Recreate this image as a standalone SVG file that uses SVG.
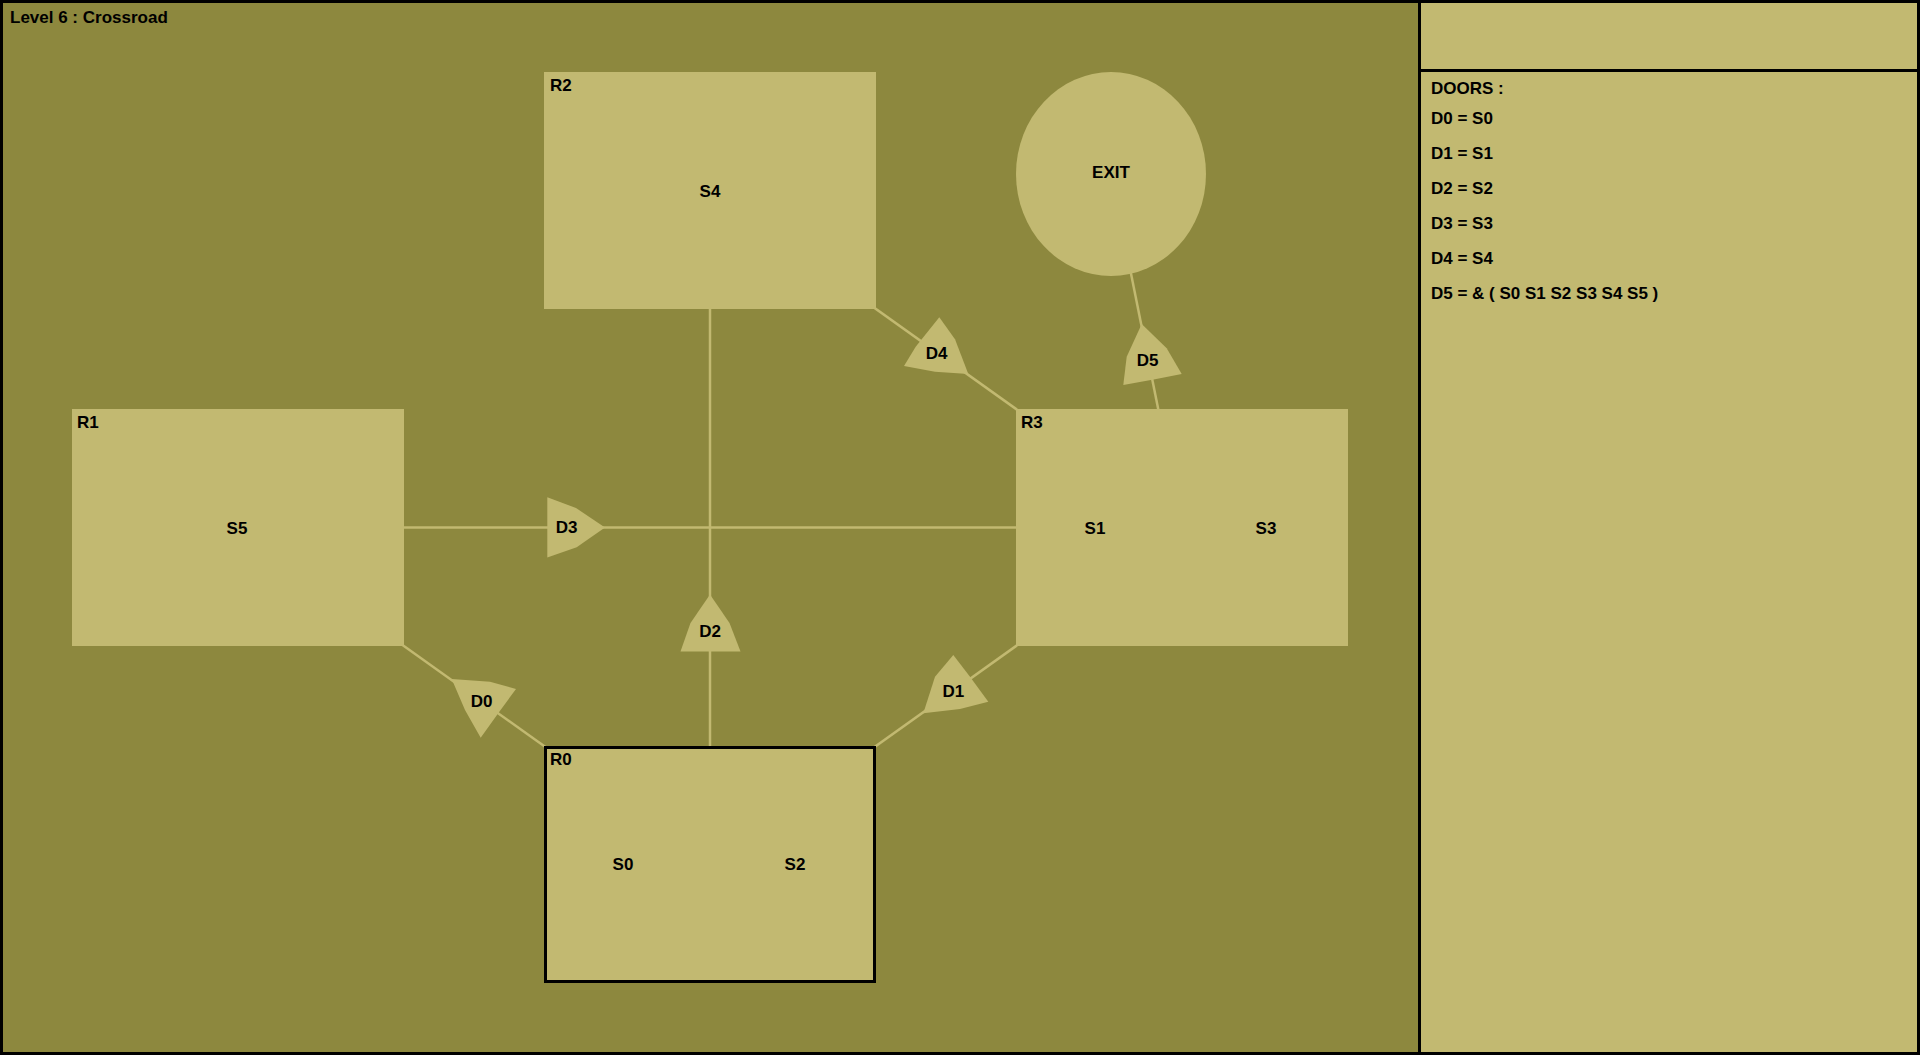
<svg xmlns="http://www.w3.org/2000/svg" width="1920" height="1055" viewBox="0 0 1920 1055">
<style>
text{font-family:"Liberation Sans",Arial,sans-serif;font-weight:bold;font-size:17px;fill:#000}
.c{text-anchor:middle}
.room{fill:#C2B971}
.door{fill:#C2B971}
.link{stroke:#C2B971;stroke-width:2.5;fill:none}
</style>
<rect x="0" y="0" width="1920" height="1055" fill="#000"/>
<rect x="3" y="3" width="1415" height="1049" fill="#8D883E"/>
<rect x="1421" y="3" width="496" height="66" fill="#C2B971"/>
<rect x="1421" y="72" width="496" height="980" fill="#C2B971"/>
<text x="10" y="23">Level 6 : Crossroad</text>
<g id="connectors">
<line class="link" x1="238" y1="527.5" x2="1182" y2="527.5"/>
<line class="link" x1="710" y1="864.5" x2="710" y2="190.5"/>
<line class="link" x1="238" y1="527.5" x2="710" y2="864.5"/>
<line class="link" x1="710" y1="864.5" x2="1182" y2="527.5"/>
<line class="link" x1="710" y1="190.5" x2="1182" y2="527.5"/>
<line class="link" x1="1111" y1="174" x2="1182" y2="527.5"/>
</g>
<g id="R2"><rect class="room" x="544" y="72" width="332" height="237"/><text x="550" y="91">R2</text><text class="c" x="710" y="196.5">S4</text></g>
<g id="R1"><rect class="room" x="72" y="409" width="332" height="237"/><text x="77" y="428">R1</text><text class="c" x="237" y="533.5">S5</text></g>
<g id="R3"><rect class="room" x="1016" y="409" width="332" height="237"/><text x="1021" y="428">R3</text><text class="c" x="1095" y="533.5">S1</text><text class="c" x="1266" y="533.5">S3</text></g>
<g id="R0"><rect class="room" x="545.5" y="747.5" width="329" height="234" stroke="#000" stroke-width="3"/><text x="550" y="765">R0</text><text class="c" x="623" y="870">S0</text><text class="c" x="795" y="870">S2</text></g>
<g id="EXIT"><ellipse class="room" cx="1111" cy="174" rx="95" ry="102"/><text class="c" x="1111" y="177.5">EXIT</text></g>
<g id="D0"><polygon class="door" points="451.7,679 490,681.7 516,689 499.3,711.7 480.7,737.7 465,710"/><text class="c" x="481.7" y="707">D0</text></g>
<g id="D1"><polygon class="door" points="953.3,655 970,676.7 988.3,701.7 960,709 923.3,713.3 935,676.7"/><text class="c" x="953.3" y="697">D1</text></g>
<g id="D2"><polygon class="door" points="710,594.5 729.5,623 740.5,651.5 680.5,651.5 690.5,623"/><text class="c" x="710" y="637.3">D2</text></g>
<g id="D3"><polygon class="door" points="547.3,497.3 576,508 605,527.5 576.7,547.3 547.3,557.5"/><text class="c" x="566.7" y="533.3">D3</text></g>
<g id="D4"><polygon class="door" points="939.3,317.3 955,339.3 968.3,374 935,371.7 904,366 915.7,346.7"/><text class="c" x="936.7" y="359.3">D4</text></g>
<g id="D5"><polygon class="door" points="1141.7,324 1166.7,348.3 1181.7,374 1155,379.3 1123.3,385 1126.7,356.7"/><text class="c" x="1147.7" y="366">D5</text></g>
<g id="legend">
<text x="1431" y="94.3">DOORS :</text>
<text x="1431" y="124">D0 = S0</text>
<text x="1431" y="159">D1 = S1</text>
<text x="1431" y="194.3">D2 = S2</text>
<text x="1431" y="229.3">D3 = S3</text>
<text x="1431" y="264.3">D4 = S4</text>
<text x="1431" y="299.3">D5 = &amp; ( S0 S1 S2 S3 S4 S5 )</text>
</g>
</svg>
